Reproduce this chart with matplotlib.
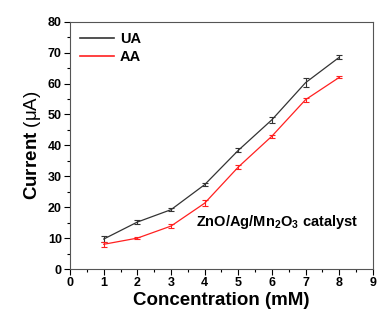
import matplotlib
matplotlib.use("Agg")
import matplotlib.pyplot as plt
from matplotlib.lines import Line2D
from matplotlib.ticker import MultipleLocator

# data
conc = [1, 2, 3, 4, 5, 6, 7, 8]
ua = [9.7, 15.2, 19.2, 27.3, 38.4, 48.3, 60.3, 68.5]
ua_err = [1.0, 0.5, 0.5, 0.5, 0.6, 1.0, 1.5, 0.6]
aa = [8.0, 10.0, 13.9, 21.3, 33.0, 43.0, 54.8, 62.0]
aa_err = [0.8, 0.4, 0.6, 0.9, 0.8, 0.5, 0.6, 0.3]

plt.rcParams["font.family"] = "Liberation Sans"
plt.rcParams["mathtext.fontset"] = "custom"
plt.rcParams["mathtext.rm"] = "Liberation Sans"
plt.rcParams["mathtext.bf"] = "Liberation Sans:bold"

fig = plt.figure(figsize=(3.77, 3.11), dpi=100)
ax = fig.add_axes([0.186, 0.135, 0.803, 0.795])

ua_col = "#333333"
aa_col = "#ff2020"
ax.errorbar(conc, ua, yerr=ua_err, color=ua_col, lw=0.9, capsize=2,
            elinewidth=0.8, capthick=0.8)
ax.errorbar(conc, aa, yerr=aa_err, color=aa_col, lw=0.9, capsize=2,
            elinewidth=0.8, capthick=0.8)

ax.set_xlim(0, 9)
ax.set_ylim(0, 80)
ax.xaxis.set_major_locator(MultipleLocator(1))
ax.xaxis.set_minor_locator(MultipleLocator(0.5))
ax.yaxis.set_major_locator(MultipleLocator(10))
ax.yaxis.set_minor_locator(MultipleLocator(5))
ax.tick_params(which="major", length=4, width=0.8, labelsize=9, pad=2)
ax.tick_params(which="minor", length=2, width=0.8)
for lab in ax.get_xticklabels() + ax.get_yticklabels():
    lab.set_fontweight("bold")
for s in ax.spines.values():
    s.set_color("#555555")
    s.set_linewidth(0.8)

ax.set_xlabel("Concentration (mM)", fontsize=13.5, fontweight="bold", labelpad=2)
ax.set_ylabel(r"$\mathbf{Current}$ (μA)", fontsize=13.5, labelpad=3)

handles = [Line2D([], [], color=ua_col, lw=1.2), Line2D([], [], color=aa_col, lw=1.2)]
leg = ax.legend(handles, ["UA", "AA"], loc="upper left", frameon=False, fontsize=10.5,
                handlelength=2.3, handletextpad=0.4, labelspacing=0.25, borderaxespad=0.3)
for t in leg.get_texts():
    t.set_fontweight("bold")

ax.text(8.57, 15.3, r"ZnO/Ag/Mn$_\mathbf{2}$O$_\mathbf{3}$ catalyst", ha="right", va="center",
        fontsize=10.5, fontweight="bold")

fig.savefig("out.png", dpi=100)
